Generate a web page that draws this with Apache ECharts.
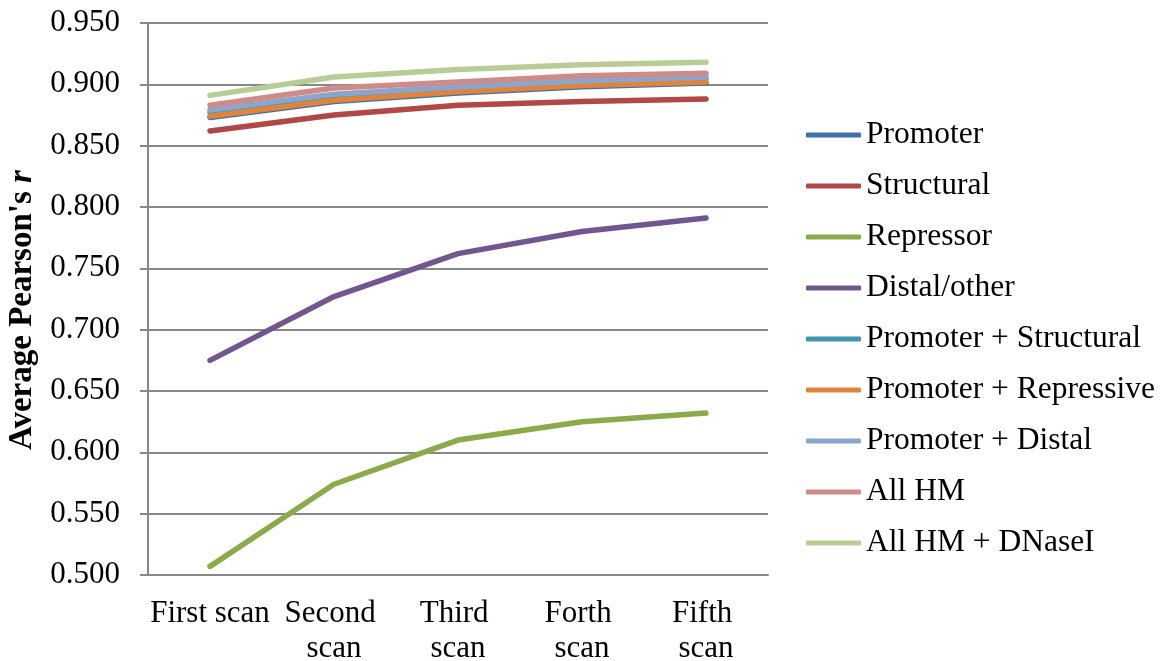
<!DOCTYPE html>
<html>
<head>
<meta charset="utf-8">
<script src="https://cdn.jsdelivr.net/npm/echarts@6/dist/echarts.min.js"></script>
<style>
  html, body { margin: 0; padding: 0; background: #ffffff; }
  #chart { width: 1167px; height: 661px; }
</style>
</head>
<body>
<div id="chart"></div>
<script>
// Scan rounds along the x axis
const scans = ['First scan', 'Second scan', 'Third scan', 'Forth scan', 'Fifth scan'];

// Average Pearson's r per feature set
const promoter            = [0.873, 0.886, 0.893, 0.898, 0.901];
const structural          = [0.862, 0.875, 0.883, 0.886, 0.888];
const repressor           = [0.507, 0.574, 0.610, 0.625, 0.632];
const distalOther         = [0.675, 0.727, 0.762, 0.780, 0.791];
const promoterStructural  = [0.877, 0.890, 0.896, 0.901, 0.905];
const promoterRepressive  = [0.874, 0.887, 0.894, 0.899, 0.902];
const promoterDistal      = [0.879, 0.892, 0.898, 0.903, 0.906];
const allHM               = [0.883, 0.897, 0.902, 0.907, 0.909];
const allHMDNase          = [0.891, 0.906, 0.912, 0.916, 0.918];

const seriesNames = ['Promoter', 'Structural', 'Repressor', 'Distal/other',
  'Promoter + Structural', 'Promoter + Repressive', 'Promoter + Distal',
  'All HM', 'All HM + DNaseI'];
const seriesData = [promoter, structural, repressor, distalOther,
  promoterStructural, promoterRepressive, promoterDistal, allHM, allHMDNase];
const seriesColors = ['#4170AB', '#B14746', '#8DAA4B', '#71568F', '#3F97B0',
  '#E0843C', '#8BA6CD', '#CF8B8A', '#B8CD96'];

const FONT = '"Liberation Serif", "Times New Roman", serif';
const AXIS_GRAY = '#888888';

const chart = echarts.init(document.getElementById('chart'), null, { renderer: 'canvas' });

chart.setOption({
  animation: false,
  backgroundColor: '#ffffff',
  grid: {
    left: 148, right: 399, top: 23, bottom: 86,
    containLabel: false,
    outerBoundsMode: 'none'
  },
  legend: {
    orient: 'vertical',
    left: 806,
    top: 117,
    padding: 0,
    icon: 'roundRect',
    itemWidth: 55,
    itemHeight: 5,
    itemGap: 15,
    data: seriesNames,
    textStyle: { fontFamily: FONT, fontSize: 31.5, color: '#000', lineHeight: 36 }
  },
  xAxis: {
    type: 'category',
    data: scans,
    boundaryGap: true,
    axisLine: { lineStyle: { color: AXIS_GRAY, width: 2 } },
    axisTick: { alignWithLabel: true, length: 7, lineStyle: { color: AXIS_GRAY, width: 2 } },
    axisLabel: {
      fontFamily: FONT, fontSize: 31, color: '#000', margin: 21,
      lineHeight: 35, width: 121, overflow: 'break', interval: 0
    }
  },
  yAxis: {
    type: 'value',
    min: 0.5,
    max: 0.95,
    interval: 0.05,
    name: "{t|Average Pearson's }{i|r}",
    nameLocation: 'middle',
    nameGap: 106,
    nameRotate: 90,
    nameTextStyle: {
      padding: [0, 22, 0, 0],
      rich: {
        t: { fontFamily: FONT, fontSize: 33, fontWeight: 'bold', color: '#000' },
        i: { fontFamily: FONT, fontSize: 33, fontWeight: 'bold', fontStyle: 'italic', color: '#000' }
      }
    },
    axisLine: { show: true, lineStyle: { color: AXIS_GRAY, width: 2 } },
    axisTick: { show: true, length: 8, lineStyle: { color: AXIS_GRAY, width: 2 } },
    splitLine: { show: true, lineStyle: { color: AXIS_GRAY, width: 2 } },
    axisLabel: {
      fontFamily: FONT, fontSize: 31, color: '#000', margin: 28,
      formatter: v => v.toFixed(3)
    }
  },
  series: seriesNames.map((name, i) => ({
    name,
    type: 'line',
    data: seriesData[i],
    symbol: 'none',
    smooth: false,
    color: seriesColors[i],
    lineStyle: { width: 5.5, color: seriesColors[i], cap: 'round', join: 'round' }
  }))
});
</script>
</body>
</html>
